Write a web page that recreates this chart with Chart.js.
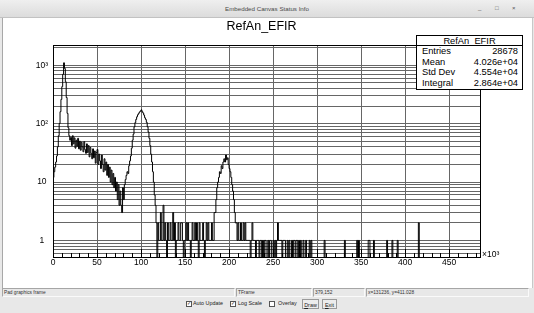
<!DOCTYPE html>
<html>
<head>
<meta charset="utf-8">
<script src="https://cdn.jsdelivr.net/npm/chart.js@4.4.1/dist/chart.umd.min.js"></script>
<style>
body { margin: 0; width: 534px; height: 313px; overflow: hidden; background: #e8e8e8; position: relative; font-family: "Liberation Sans", Arial, sans-serif; }
#titlebar { position: absolute; left: 0; top: 0; width: 534px; height: 17px; background: linear-gradient(#efefef, #dcdcdc); border-bottom: 1px solid #c2c2c2; }
#titlebar .t { position: absolute; left: 0; width: 534px; top: 0; line-height: 17px; text-align: center; font-size: 6.2px; color: #4a4a4a; }
#titlebar .w { position: absolute; top: 0; line-height: 17px; font-size: 6px; color: #555; }
#pad { position: absolute; left: 2px; top: 18px; width: 529px; height: 270px; background: #fff; border-left: 1px solid #a8a8a8; border-right: 1px solid #c8c8c8; }
#chart { position: absolute; left: 0; top: 0; z-index: 2; }
#title { position: absolute; left: 0; width: 523px; top: 20px; text-align: center; font-size: 12.5px; line-height: 12.5px; z-index: 3; color: #000; }
#stats { position: absolute; left: 416px; top: 35px; width: 105px; height: 53px; border: 1px solid #000; background: #fff; z-index: 3; font-size: 9.3px; color: #000; }
#stats .h { height: 9px; line-height: 10px; text-align: center; border-bottom: 1px solid #000; }
#stats .r { height: 10.6px; line-height: 10.6px; padding: 0 4px 0 5px; display: flex; justify-content: space-between; }
.seg { position: absolute; top: 288px; line-height: 8px; font-size: 4.8px; color: #333; border-top: 1px solid #a6a6a6; border-left: 1px solid #a6a6a6; border-bottom: 1px solid #fafafa; border-right: 1px solid #fafafa; padding-left: 1px; box-sizing: border-box; height: 9px; }
.ck { position: absolute; top: 301px; width: 4px; height: 4px; border: 1px solid #555; background: #fff; font-size: 4.5px; line-height: 4px; text-align: center; color: #222; }
.lb { position: absolute; top: 299px; font-size: 5.4px; line-height: 8px; color: #222; }
.bt { position: absolute; top: 299px; height: 10px; border: 1px solid #9a9a9a; background: #ececec; font-size: 5.4px; line-height: 10px; text-align: center; color: #222; box-sizing: border-box; }
</style>
</head>
<body>
<div id="titlebar">
  <div class="t">Embedded Canvas Status Info</div>
  <div class="w" style="left:478px">_</div>
  <div class="w" style="left:495px">&#9633;</div>
  <div class="w" style="left:512px">&#215;</div>
</div>
<div id="pad"></div>
<div id="title">RefAn_EFIR</div>
<div id="stats">
  <div class="h">RefAn_EFIR</div>
  <div class="r"><span>Entries</span><span>28678</span></div>
  <div class="r"><span>Mean</span><span>4.026e+04</span></div>
  <div class="r"><span>Std Dev</span><span>4.554e+04</span></div>
  <div class="r"><span>Integral</span><span>2.864e+04</span></div>
</div>
<canvas id="chart" width="534" height="313"></canvas>

<div class="seg" style="left:2px;width:233px">Pad graphics frame</div>
<div class="seg" style="left:236px;width:76px">TFrame</div>
<div class="seg" style="left:313px;width:52px">379,152</div>
<div class="seg" style="left:366px;width:163px">x=131236, y=411.028</div>

<div class="ck" style="left:186px">&#10003;</div><div class="lb" style="left:193px">Auto Update</div>
<div class="ck" style="left:230px">&#10003;</div><div class="lb" style="left:238px">Log Scale</div>
<div class="ck" style="left:269px"></div><div class="lb" style="left:278px">Overlay</div>
<div class="bt" style="left:302px;width:17px"><u>D</u>raw</div>
<div class="bt" style="left:322px;width:15px"><u>E</u>xit</div>

<script>
// histogram RefAn_EFIR, x in units of 10^3, 1k bins
var binWidth = 1;
var xMax = 485;

// bins 0..117
var peakCounts = [
    12, 15, 18, 22, 28, 40, 62, 100, 160, 260, 430, 700, 1100, 880, 520, 280, 150, 85, 62, 52,
    58, 42, 62, 45, 57, 38, 52, 41, 56, 37, 50, 35, 48, 40, 33, 49, 36, 31, 45, 32,
    42, 27, 39, 31, 25, 37, 26, 34, 21, 32, 36, 20, 30, 23, 17, 29, 20, 15, 25, 16,
    22, 13, 20, 12, 18, 10, 16, 9, 14, 8, 12, 7, 10, 5, 9, 4, 7, 4, 3, 8,
    5, 9, 11, 13, 15, 14, 19, 23, 28, 38, 52, 66, 88, 104, 118, 131, 142, 150, 158, 165,
    172, 160, 152, 140, 126, 118, 105, 88, 72, 56, 42, 30, 22, 15, 10, 6, 4, 2
];

// bins 118..183
var midStart = 118;
var midCounts = [
    0, 2, 1, 1, 3, 1, 1, 4, 1, 2,
    1, 0, 2, 1, 1, 2, 1, 1, 3, 1,
    2, 0, 1, 1, 2, 1, 1, 2, 2, 1,
    0, 1, 1, 2, 1, 2, 1, 1, 0, 1,
    2, 1, 1, 2, 1, 2, 1, 0, 2, 1,
    1, 1, 2, 1, 0, 1, 2, 1, 2, 1,
    1, 1, 2, 1, 1, 3
];

// bins 184..211
var peak3Start = 184;
var peak3Counts = [3, 5, 8, 10, 12, 15, 14, 19, 17, 22, 25, 22, 29, 24, 26, 20, 17, 15, 12, 9, 7, 5, 3, 2, 2, 1, 2, 1];

// isolated bins in the tail
var tailBins = [212, 213, 214, 215, 216, 217, 218, 219, 220, 221, 222, 223, 225, 226, 227, 228, 229, 231, 232, 233,
    235, 236, 238, 240, 241, 244, 246, 247, 250, 252, 254, 255, 256, 257, 258, 259, 261, 262, 263, 266,
    268, 271, 273, 274, 276, 277, 279, 281, 284, 287, 291, 293, 308, 331, 345, 347, 358, 359, 364, 379,
    385, 391, 415];
var tailCounts = [1, 2, 1, 1, 2, 1, 2, 1, 1, 1, 1, 1, 1, 2, 1, 1, 1, 1, 1, 1,
    1, 1, 1, 1, 1, 1, 1, 1, 1, 1, 1, 2, 1, 1, 1, 1, 1, 1, 1, 1,
    1, 1, 1, 1, 1, 1, 1, 1, 1, 1, 1, 1, 1, 1, 1, 1, 1, 1, 1, 1,
    1, 1, 2];

var xTicks = [0, 50, 100, 150, 200, 250, 300, 350, 400, 450];
var yLabels = {1: '1', 10: '10', 100: '10\u00b2', 1000: '10\u00b3'};
var yMin = 0.52, yMax = 2220;

// assemble bins
var nBins = xMax / binWidth;
var counts = new Array(nBins).fill(0);
peakCounts.forEach(function(c, i) { counts[i] = c; });
midCounts.forEach(function(c, i) { counts[midStart + i] = c; });
peak3Counts.forEach(function(c, i) { counts[peak3Start + i] = c; });
tailBins.forEach(function(b, i) { counts[b] = tailCounts[i]; });

var emptyLevel = 0.1; // below the frame, empty bins drop to the bottom
var points = counts.map(function(c, i) { return {x: i * binWidth, y: c > 0 ? c : emptyLevel}; });
points.push({x: nBins * binWidth, y: emptyLevel});

// log grid at 1..9 x 10^n like ROOT
var yGrid = [];
[0.1, 1, 10, 100, 1000].forEach(function(d) {
    for (var k = 1; k <= 9; k++) {
        var v = +(k * d).toPrecision(3);
        if (v >= yMin && v <= yMax) yGrid.push(v);
    }
});

var framePlugin = {
    id: 'frame',
    afterDatasetsDraw: function(chart) {
        var a = chart.chartArea, ctx = chart.ctx, xs = chart.scales.x;
        ctx.save();
        ctx.strokeStyle = '#000';
        ctx.lineWidth = 1;
        ctx.strokeRect(Math.round(a.left) + 0.5, Math.round(a.top) + 0.5, Math.round(a.right - a.left), Math.round(a.bottom - a.top));
        // x axis ticks
        ctx.beginPath();
        for (var v = 0; v <= xMax; v += 10) {
            var px = Math.round(xs.getPixelForValue(v)) + 0.5;
            var len = v % 50 === 0 ? 8 : 4;
            ctx.moveTo(px, a.bottom);
            ctx.lineTo(px, a.bottom - len);
        }
        ctx.stroke();
        ctx.fillStyle = '#000';
        ctx.font = '8.5px "Liberation Sans", Arial, sans-serif';
        ctx.textBaseline = 'alphabetic';
        ctx.fillText('\u00d710\u00b3', a.right + 2, a.bottom);
        ctx.restore();
    }
};

new Chart(document.getElementById('chart'), {
    type: 'line',
    data: {
        datasets: [{
            data: points,
            stepped: 'before',
            borderColor: '#000',
            borderWidth: 1,
            pointRadius: 0,
            fill: false,
            tension: 0
        }]
    },
    options: {
        responsive: false,
        animation: false,
        events: [],
        layout: { padding: { left: 31, right: 54, top: 45, bottom: 42 } },
        plugins: { legend: { display: false }, tooltip: { enabled: false }, title: { display: false } },
        scales: {
            x: {
                type: 'linear',
                min: 0,
                max: xMax,
                afterBuildTicks: function(scale) { scale.ticks = xTicks.map(function(v) { return {value: v}; }); },
                afterFit: function(scale) { scale.height = 14; },
                grid: { color: '#666', lineWidth: 1, drawTicks: false },
                border: { display: false },
                ticks: {
                    autoSkip: false, maxRotation: 0, padding: 1, color: '#000',
                    font: { family: '"Liberation Sans", Arial, sans-serif', size: 8.5 },
                    callback: function(v) { return String(v); }
                }
            },
            y: {
                type: 'logarithmic',
                min: yMin,
                max: yMax,
                afterBuildTicks: function(scale) { scale.ticks = yGrid.map(function(v) { return {value: v}; }); },
                afterFit: function(scale) { scale.width = 22; },
                grid: { color: '#666', lineWidth: 1, drawTicks: false },
                border: { display: false },
                ticks: {
                    autoSkip: false, padding: 5, crossAlign: 'center', color: '#000',
                    font: { family: '"Liberation Sans", Arial, sans-serif', size: 8.5 },
                    callback: function(v) { return yLabels[v] || ''; }
                }
            }
        }
    },
    plugins: [framePlugin]
});
</script>
</body>
</html>
